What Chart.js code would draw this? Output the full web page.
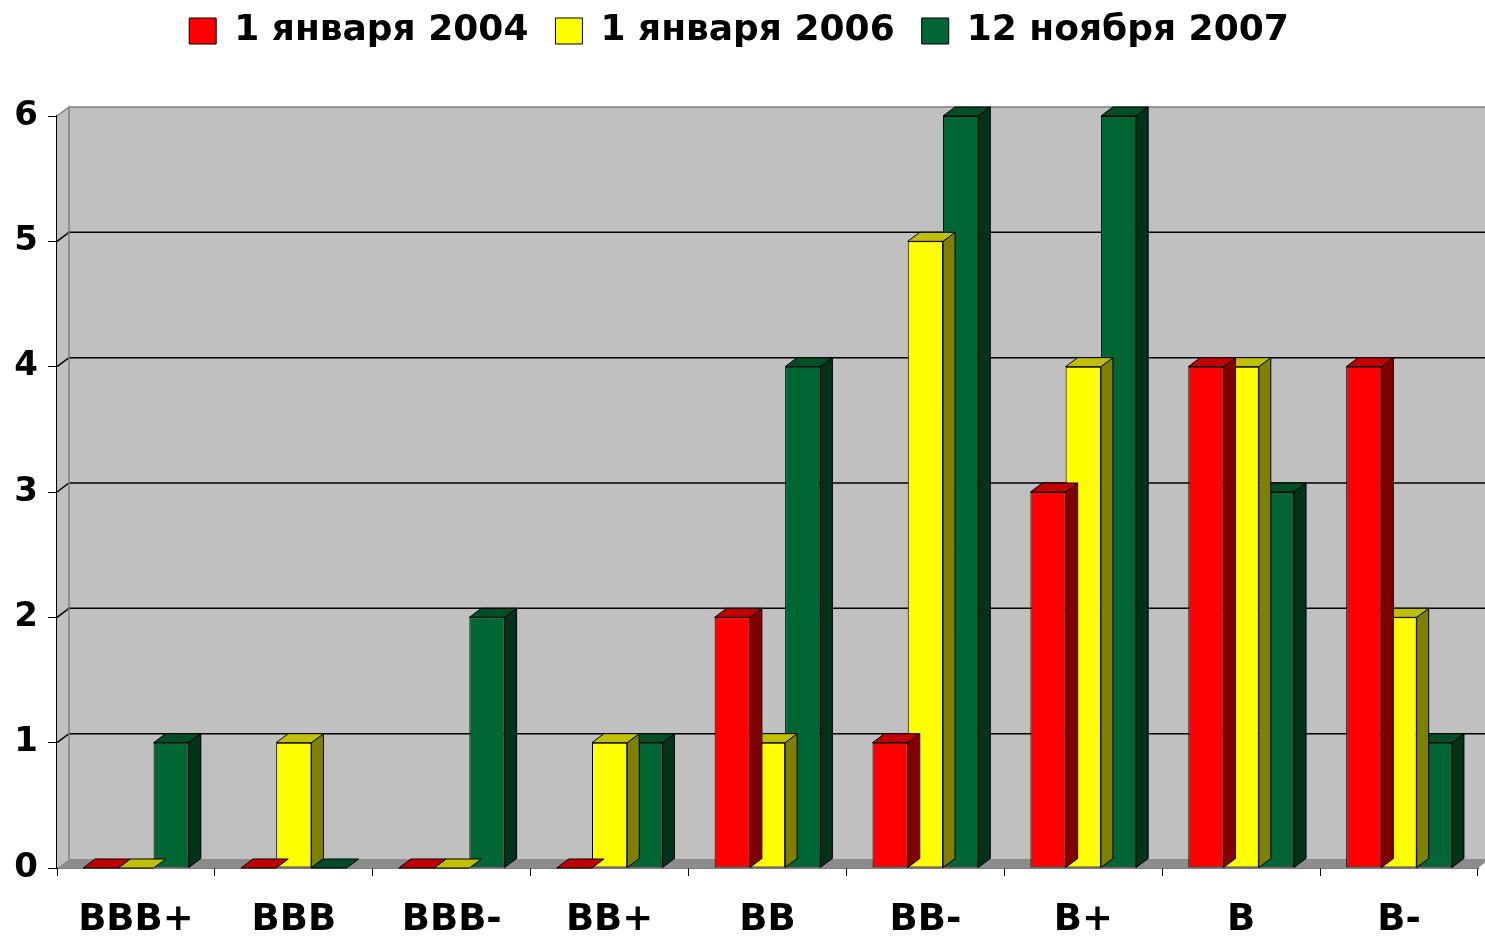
<!DOCTYPE html>
<html>
<head>
<meta charset="utf-8">
<script src="https://cdn.jsdelivr.net/npm/chart.js@4/dist/chart.umd.min.js"></script>
<style>
  html,body{margin:0;padding:0;background:#fff;}
  canvas{display:block;}
</style>
</head>
<body>
<canvas id="chart" width="1485" height="938"></canvas>
<script>
const categories = ['BBB+','BBB','BBB-','BB+','BB','BB-','B+','B','B-'];
const seriesNames = ['1 января 2004','1 января 2006','12 ноября 2007'];
const jan2004 = [0,0,0,0,2,1,3,4,4];
const jan2006 = [0,1,0,1,1,5,4,4,2];
const nov2007 = [1,0,2,1,4,6,6,3,1];
const yTicks = [0,1,2,3,4,5,6];

// front / side / top colours per series
const faces = [
  {front:'#ff0000', side:'#800000', top:'#c00000'},
  {front:'#ffff00', side:'#808000', top:'#c0c000'},
  {front:'#006633', side:'#00331a', top:'#004d26'}
];
const DX = 12, DY = -9;
const FONT = '"DejaVu Sans", Verdana, sans-serif';
const LEGEND_PAD = 27;

function poly(ctx, pts, fill, stroke){
  ctx.beginPath();
  ctx.moveTo(pts[0][0], pts[0][1]);
  for(let i=1;i<pts.length;i++) ctx.lineTo(pts[i][0], pts[i][1]);
  ctx.closePath();
  if(fill){ctx.fillStyle=fill;ctx.fill();}
  if(stroke){ctx.strokeStyle=stroke;ctx.lineWidth=1;ctx.stroke();}
}

// legend takes the whole band above the plot, text sits near the top
const legendBand = {
  id:'legendBand',
  beforeLayout(chart){
    const lg = chart.legend;
    if(lg && !lg._wrapped){
      const fit = lg.fit.bind(lg);
      lg.fit = function(){ fit(); this.height = 116; };
      lg._wrapped = true;
    }
  },
  afterLayout(chart){
    if(chart.legend) chart.legend.top = 13 - LEGEND_PAD;
  }
};

const walls = {
  id:'walls',
  beforeDatasetsDraw(chart){
    const {ctx, chartArea:a, scales:{y}} = chart;
    ctx.save();
    // back wall
    ctx.fillStyle='#c0c0c0';
    ctx.fillRect(a.left+DX, a.top+DY, chart.width, a.bottom-a.top);
    // left wall
    poly(ctx, [[a.left,a.bottom],[a.left,a.top],[a.left+DX,a.top+DY],[a.left+DX,a.bottom+DY]], '#c0c0c0');
    // floor
    poly(ctx, [[a.left,a.bottom],[a.right,a.bottom],[a.right+DX,a.bottom+DY],[a.left+DX,a.bottom+DY]], '#8c8c8c');
    // gridlines on the walls
    ctx.lineWidth=1.5;
    yTicks.forEach(v=>{
      if(v===0) return;
      const py = y.getPixelForValue(v);
      ctx.strokeStyle = v===6 ? '#808080' : '#000';
      ctx.beginPath();
      ctx.moveTo(a.left, py);
      ctx.lineTo(a.left+DX, py+DY);
      ctx.lineTo(chart.width, py+DY);
      ctx.stroke();
    });
    // wall corner edge
    ctx.strokeStyle='#808080';
    ctx.beginPath();
    ctx.moveTo(a.left+DX, a.top+DY);
    ctx.lineTo(a.left+DX, a.bottom+DY);
    ctx.stroke();
    ctx.restore();
  },
  afterDatasetDraw(chart, args){
    const {ctx} = chart;
    const f = faces[args.index];
    ctx.save();
    ctx.lineJoin='round';
    args.meta.data.forEach(bar=>{
      const p = bar.getProps(['x','y','base','width'], true);
      const l = p.x - p.width/2, r = p.x + p.width/2;
      if(p.base - p.y > 0.5)
        poly(ctx, [[r,p.y],[r+DX,p.y+DY],[r+DX,p.base+DY],[r,p.base]], f.side, '#000');
      poly(ctx, [[l,p.y],[r,p.y],[r+DX,p.y+DY],[l+DX,p.y+DY]], f.top, '#000');
    });
    ctx.restore();
  }
};

new Chart(document.getElementById('chart'), {
  type:'bar',
  data:{
    labels:categories,
    datasets:[jan2004, jan2006, nov2007].map((d,i)=>({
      label:seriesNames[i],
      data:d,
      backgroundColor:faces[i].front,
      borderColor:'#000',
      borderWidth:1,
      borderSkipped:false,
      categoryPercentage:0.67,
      barPercentage:1
    }))
  },
  options:{
    responsive:false,
    animation:false,
    events:[],
    layout:{padding:{top:0, right:7, left:0, bottom:0}},
    plugins:{
      legend:{
        position:'top',
        labels:{
          boxWidth:27, boxHeight:26, padding:LEGEND_PAD,
          color:'#000',
          font:{family:FONT, size:36, weight:'bold'}
        }
      },
      tooltip:{enabled:false}
    },
    scales:{
      x:{
        grid:{drawOnChartArea:false, drawTicks:true, tickLength:8, color:'#000', offset:true},
        border:{color:'#000', width:1.5},
        ticks:{color:'#000', padding:22, font:{family:FONT, size:37, weight:'bold'}, maxRotation:0},
        afterFit(s){ s.height = 70; }
      },
      y:{
        min:0, max:6,
        afterBuildTicks(s){ s.ticks = yTicks.map(v=>({value:v})); },
        grid:{drawOnChartArea:false, drawTicks:true, tickLength:9, color:'#000'},
        border:{color:'#000', width:1.5},
        ticks:{color:'#000', padding:10, font:{family:FONT, size:34, weight:'bold'}},
        afterFit(s){ s.width = 57; }
      }
    }
  },
  plugins:[legendBand, walls]
});
</script>
</body>
</html>
